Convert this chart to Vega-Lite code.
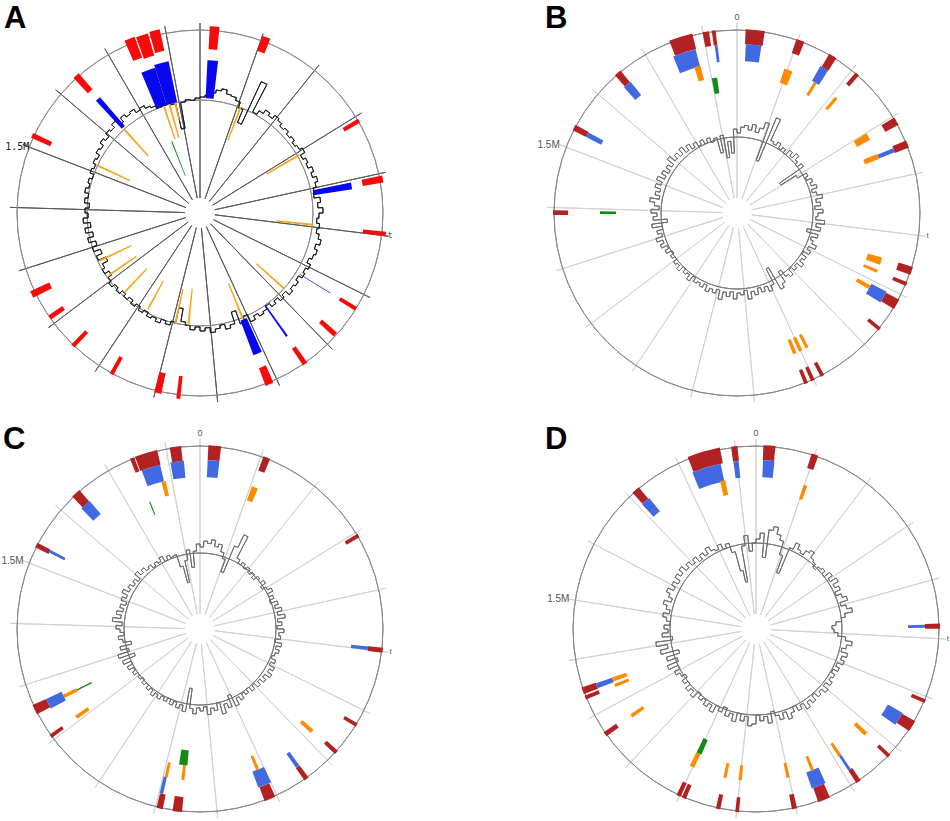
{
"$schema":"https://vega.github.io/schema/vega-lite/v6.json",
"background":"white",
"padding":{"left":0,"top":3,"right":0,"bottom":0},
"config":{"view":{"stroke":null}},
"datasets":{
"t1":[{"p":0},{"p":100},{"p":200},{"p":300},{"p":400},{"p":500},{"p":600},{"p":700},{"p":800},{"p":900},{"p":1000},{"p":1100},{"p":1200},{"p":1300},{"p":1400},{"p":1500},{"p":1600},{"p":1700},{"p":1800}],
"t2":[{"p":0},{"p":100},{"p":200},{"p":300},{"p":400},{"p":500},{"p":600},{"p":700},{"p":800},{"p":900},{"p":1000},{"p":1100},{"p":1200},{"p":1300},{"p":1400},{"p":1500},{"p":1600},{"p":1700},{"p":1800},{"p":1900}],
"gcA":[{"i":0,"v":116},{"i":1,"v":118},{"i":2,"v":121},{"i":3,"v":124},{"i":4,"v":126},{"i":5,"v":122},{"i":6,"v":121},{"i":7,"v":118},{"i":8,"v":112},{"i":9,"v":98},{"i":10,"v":145},{"i":11,"v":114},{"i":12,"v":118},{"i":13,"v":122},{"i":14,"v":119},{"i":15,"v":123},{"i":16,"v":121},{"i":17,"v":118},{"i":18,"v":120},{"i":19,"v":117},{"i":20,"v":119},{"i":21,"v":116},{"i":22,"v":118},{"i":23,"v":121},{"i":24,"v":116},{"i":25,"v":119},{"i":26,"v":117},{"i":27,"v":121},{"i":28,"v":118},{"i":29,"v":122},{"i":30,"v":119},{"i":31,"v":116},{"i":32,"v":115},{"i":33,"v":121},{"i":34,"v":118},{"i":35,"v":123},{"i":36,"v":119},{"i":37,"v":117},{"i":38,"v":120},{"i":39,"v":118},{"i":40,"v":121},{"i":41,"v":124},{"i":42,"v":120},{"i":43,"v":123},{"i":44,"v":121},{"i":45,"v":118},{"i":46,"v":122},{"i":47,"v":119},{"i":48,"v":121},{"i":49,"v":117},{"i":50,"v":120},{"i":51,"v":118},{"i":52,"v":121},{"i":53,"v":116},{"i":54,"v":119},{"i":55,"v":115},{"i":56,"v":118},{"i":57,"v":114},{"i":58,"v":117},{"i":59,"v":119},{"i":60,"v":116},{"i":61,"v":120},{"i":62,"v":112},{"i":63,"v":118},{"i":64,"v":104},{"i":65,"v":116},{"i":66,"v":119},{"i":67,"v":114},{"i":68,"v":117},{"i":69,"v":120},{"i":70,"v":115},{"i":71,"v":118},{"i":72,"v":114},{"i":73,"v":117},{"i":74,"v":113},{"i":75,"v":110},{"i":76,"v":97},{"i":77,"v":112},{"i":78,"v":116},{"i":79,"v":113},{"i":80,"v":117},{"i":81,"v":114},{"i":82,"v":116},{"i":83,"v":112},{"i":84,"v":115},{"i":85,"v":111},{"i":86,"v":114},{"i":87,"v":110},{"i":88,"v":113},{"i":89,"v":110},{"i":90,"v":114},{"i":91,"v":111},{"i":92,"v":115},{"i":93,"v":112},{"i":94,"v":108},{"i":95,"v":113},{"i":96,"v":110},{"i":97,"v":104},{"i":98,"v":112},{"i":99,"v":106},{"i":100,"v":113},{"i":101,"v":108},{"i":102,"v":115},{"i":103,"v":109},{"i":104,"v":116},{"i":105,"v":110},{"i":106,"v":117},{"i":107,"v":112},{"i":108,"v":115},{"i":109,"v":111},{"i":110,"v":116},{"i":111,"v":113},{"i":112,"v":117},{"i":113,"v":114},{"i":114,"v":116},{"i":115,"v":113},{"i":116,"v":117},{"i":117,"v":115},{"i":118,"v":118},{"i":119,"v":116},{"i":120,"v":120},{"i":121,"v":118},{"i":122,"v":122},{"i":123,"v":119},{"i":124,"v":123},{"i":125,"v":121},{"i":126,"v":125},{"i":127,"v":119},{"i":128,"v":124},{"i":129,"v":121},{"i":130,"v":123},{"i":131,"v":119},{"i":132,"v":121},{"i":133,"v":118},{"i":134,"v":116},{"i":135,"v":113},{"i":136,"v":113},{"i":137,"v":114},{"i":138,"v":112},{"i":139,"v":86},{"i":140,"v":112},{"i":141,"v":114},{"i":142,"v":113},{"i":143,"v":115},{"i":144,"v":116}],
"gcB":[{"i":0,"v":80},{"i":1,"v":86},{"i":2,"v":88},{"i":3,"v":84},{"i":4,"v":90},{"i":5,"v":83},{"i":6,"v":88},{"i":7,"v":95},{"i":8,"v":56},{"i":9,"v":103},{"i":10,"v":80},{"i":11,"v":78},{"i":12,"v":82},{"i":13,"v":77},{"i":14,"v":80},{"i":15,"v":76},{"i":16,"v":82},{"i":17,"v":78},{"i":18,"v":84},{"i":19,"v":79},{"i":20,"v":76},{"i":21,"v":81},{"i":22,"v":52},{"i":23,"v":70},{"i":24,"v":80},{"i":25,"v":77},{"i":26,"v":82},{"i":27,"v":79},{"i":28,"v":84},{"i":29,"v":78},{"i":30,"v":82},{"i":31,"v":87},{"i":32,"v":80},{"i":33,"v":84},{"i":34,"v":78},{"i":35,"v":86},{"i":36,"v":81},{"i":37,"v":79},{"i":38,"v":88},{"i":39,"v":80},{"i":40,"v":85},{"i":41,"v":72},{"i":42,"v":84},{"i":43,"v":78},{"i":44,"v":81},{"i":45,"v":86},{"i":46,"v":79},{"i":47,"v":83},{"i":48,"v":77},{"i":49,"v":82},{"i":50,"v":79},{"i":51,"v":84},{"i":52,"v":78},{"i":53,"v":81},{"i":54,"v":77},{"i":55,"v":83},{"i":56,"v":80},{"i":57,"v":72},{"i":58,"v":84},{"i":59,"v":88},{"i":60,"v":63},{"i":61,"v":80},{"i":62,"v":85},{"i":63,"v":79},{"i":64,"v":83},{"i":65,"v":78},{"i":66,"v":84},{"i":67,"v":80},{"i":68,"v":87},{"i":69,"v":78},{"i":70,"v":82},{"i":71,"v":80},{"i":72,"v":86},{"i":73,"v":79},{"i":74,"v":84},{"i":75,"v":80},{"i":76,"v":88},{"i":77,"v":79},{"i":78,"v":83},{"i":79,"v":80},{"i":80,"v":84},{"i":81,"v":78},{"i":82,"v":82},{"i":83,"v":79},{"i":84,"v":81},{"i":85,"v":77},{"i":86,"v":83},{"i":87,"v":78},{"i":88,"v":80},{"i":89,"v":76},{"i":90,"v":82},{"i":91,"v":78},{"i":92,"v":80},{"i":93,"v":76},{"i":94,"v":79},{"i":95,"v":75},{"i":96,"v":81},{"i":97,"v":77},{"i":98,"v":83},{"i":99,"v":79},{"i":100,"v":85},{"i":101,"v":78},{"i":102,"v":82},{"i":103,"v":76},{"i":104,"v":86},{"i":105,"v":70},{"i":106,"v":84},{"i":107,"v":80},{"i":108,"v":86},{"i":109,"v":78},{"i":110,"v":83},{"i":111,"v":88},{"i":112,"v":79},{"i":113,"v":84},{"i":114,"v":80},{"i":115,"v":86},{"i":116,"v":81},{"i":117,"v":87},{"i":118,"v":80},{"i":119,"v":85},{"i":120,"v":79},{"i":121,"v":84},{"i":122,"v":80},{"i":123,"v":88},{"i":124,"v":81},{"i":125,"v":85},{"i":126,"v":80},{"i":127,"v":86},{"i":128,"v":79},{"i":129,"v":84},{"i":130,"v":78},{"i":131,"v":82},{"i":132,"v":77},{"i":133,"v":81},{"i":134,"v":76},{"i":135,"v":80},{"i":136,"v":75},{"i":137,"v":78},{"i":138,"v":62},{"i":139,"v":79},{"i":140,"v":56},{"i":141,"v":72},{"i":142,"v":60},{"i":143,"v":84},{"i":144,"v":80}],
"gcC":[{"i":0,"v":82},{"i":1,"v":88},{"i":2,"v":86},{"i":3,"v":90},{"i":4,"v":84},{"i":5,"v":87},{"i":6,"v":80},{"i":7,"v":74},{"i":8,"v":61},{"i":9,"v":90},{"i":10,"v":104},{"i":11,"v":80},{"i":12,"v":76},{"i":13,"v":79},{"i":14,"v":75},{"i":15,"v":78},{"i":16,"v":74},{"i":17,"v":77},{"i":18,"v":73},{"i":19,"v":78},{"i":20,"v":76},{"i":21,"v":80},{"i":22,"v":74},{"i":23,"v":78},{"i":24,"v":82},{"i":25,"v":76},{"i":26,"v":80},{"i":27,"v":75},{"i":28,"v":82},{"i":29,"v":78},{"i":30,"v":84},{"i":31,"v":79},{"i":32,"v":86},{"i":33,"v":78},{"i":34,"v":82},{"i":35,"v":77},{"i":36,"v":84},{"i":37,"v":79},{"i":38,"v":81},{"i":39,"v":76},{"i":40,"v":83},{"i":41,"v":78},{"i":42,"v":82},{"i":43,"v":79},{"i":44,"v":77},{"i":45,"v":82},{"i":46,"v":78},{"i":47,"v":84},{"i":48,"v":80},{"i":49,"v":85},{"i":50,"v":79},{"i":51,"v":83},{"i":52,"v":78},{"i":53,"v":82},{"i":54,"v":77},{"i":55,"v":81},{"i":56,"v":76},{"i":57,"v":80},{"i":58,"v":77},{"i":59,"v":82},{"i":60,"v":78},{"i":61,"v":85},{"i":62,"v":72},{"i":63,"v":84},{"i":64,"v":79},{"i":65,"v":88},{"i":66,"v":76},{"i":67,"v":83},{"i":68,"v":80},{"i":69,"v":86},{"i":70,"v":78},{"i":71,"v":82},{"i":72,"v":79},{"i":73,"v":85},{"i":74,"v":80},{"i":75,"v":60},{"i":76,"v":84},{"i":77,"v":78},{"i":78,"v":82},{"i":79,"v":77},{"i":80,"v":81},{"i":81,"v":76},{"i":82,"v":80},{"i":83,"v":77},{"i":84,"v":81},{"i":85,"v":78},{"i":86,"v":82},{"i":87,"v":77},{"i":88,"v":80},{"i":89,"v":76},{"i":90,"v":79},{"i":91,"v":75},{"i":92,"v":78},{"i":93,"v":76},{"i":94,"v":80},{"i":95,"v":77},{"i":96,"v":82},{"i":97,"v":76},{"i":98,"v":84},{"i":99,"v":70},{"i":100,"v":86},{"i":101,"v":74},{"i":102,"v":82},{"i":103,"v":70},{"i":104,"v":78},{"i":105,"v":82},{"i":106,"v":76},{"i":107,"v":80},{"i":108,"v":84},{"i":109,"v":78},{"i":110,"v":88},{"i":111,"v":80},{"i":112,"v":85},{"i":113,"v":79},{"i":114,"v":83},{"i":115,"v":78},{"i":116,"v":84},{"i":117,"v":80},{"i":118,"v":86},{"i":119,"v":80},{"i":120,"v":83},{"i":121,"v":79},{"i":122,"v":82},{"i":123,"v":78},{"i":124,"v":85},{"i":125,"v":80},{"i":126,"v":83},{"i":127,"v":79},{"i":128,"v":81},{"i":129,"v":77},{"i":130,"v":80},{"i":131,"v":78},{"i":132,"v":82},{"i":133,"v":76},{"i":134,"v":80},{"i":135,"v":77},{"i":136,"v":78},{"i":137,"v":65},{"i":138,"v":48},{"i":139,"v":70},{"i":140,"v":80},{"i":141,"v":62},{"i":142,"v":78},{"i":143,"v":85},{"i":144,"v":82}],
"gcD":[{"i":0,"v":90},{"i":1,"v":96},{"i":2,"v":72},{"i":3,"v":100},{"i":4,"v":104},{"i":5,"v":97},{"i":6,"v":92},{"i":7,"v":78},{"i":8,"v":60},{"i":9,"v":88},{"i":10,"v":95},{"i":11,"v":90},{"i":12,"v":88},{"i":13,"v":93},{"i":14,"v":96},{"i":15,"v":90},{"i":16,"v":88},{"i":17,"v":84},{"i":18,"v":88},{"i":19,"v":90},{"i":20,"v":86},{"i":21,"v":93},{"i":22,"v":88},{"i":23,"v":95},{"i":24,"v":89},{"i":25,"v":93},{"i":26,"v":87},{"i":27,"v":92},{"i":28,"v":96},{"i":29,"v":88},{"i":30,"v":93},{"i":31,"v":98},{"i":32,"v":90},{"i":33,"v":86},{"i":34,"v":80},{"i":35,"v":76},{"i":36,"v":78},{"i":37,"v":82},{"i":38,"v":90},{"i":39,"v":97},{"i":40,"v":92},{"i":41,"v":88},{"i":42,"v":95},{"i":43,"v":90},{"i":44,"v":94},{"i":45,"v":88},{"i":46,"v":92},{"i":47,"v":87},{"i":48,"v":91},{"i":49,"v":89},{"i":50,"v":93},{"i":51,"v":88},{"i":52,"v":94},{"i":53,"v":89},{"i":54,"v":92},{"i":55,"v":87},{"i":56,"v":93},{"i":57,"v":89},{"i":58,"v":95},{"i":59,"v":88},{"i":60,"v":92},{"i":61,"v":86},{"i":62,"v":91},{"i":63,"v":96},{"i":64,"v":88},{"i":65,"v":94},{"i":66,"v":89},{"i":67,"v":84},{"i":68,"v":95},{"i":69,"v":88},{"i":70,"v":92},{"i":71,"v":86},{"i":72,"v":95},{"i":73,"v":97},{"i":74,"v":88},{"i":75,"v":93},{"i":76,"v":86},{"i":77,"v":95},{"i":78,"v":88},{"i":79,"v":92},{"i":80,"v":84},{"i":81,"v":90},{"i":82,"v":86},{"i":83,"v":94},{"i":84,"v":88},{"i":85,"v":92},{"i":86,"v":87},{"i":87,"v":90},{"i":88,"v":85},{"i":89,"v":93},{"i":90,"v":88},{"i":91,"v":92},{"i":92,"v":86},{"i":93,"v":90},{"i":94,"v":84},{"i":95,"v":88},{"i":96,"v":92},{"i":97,"v":86},{"i":98,"v":96},{"i":99,"v":84},{"i":100,"v":94},{"i":101,"v":80},{"i":102,"v":98},{"i":103,"v":90},{"i":104,"v":101},{"i":105,"v":84},{"i":106,"v":94},{"i":107,"v":88},{"i":108,"v":92},{"i":109,"v":86},{"i":110,"v":90},{"i":111,"v":94},{"i":112,"v":88},{"i":113,"v":92},{"i":114,"v":96},{"i":115,"v":89},{"i":116,"v":93},{"i":117,"v":97},{"i":118,"v":91},{"i":119,"v":95},{"i":120,"v":90},{"i":121,"v":96},{"i":122,"v":92},{"i":123,"v":97},{"i":124,"v":91},{"i":125,"v":95},{"i":126,"v":90},{"i":127,"v":94},{"i":128,"v":88},{"i":129,"v":93},{"i":130,"v":89},{"i":131,"v":95},{"i":132,"v":90},{"i":133,"v":88},{"i":134,"v":92},{"i":135,"v":86},{"i":136,"v":90},{"i":137,"v":80},{"i":138,"v":60},{"i":139,"v":48},{"i":140,"v":84},{"i":141,"v":94},{"i":142,"v":78},{"i":143,"v":86},{"i":144,"v":90}],
"fA":[
{"s":1733,"e":1750,"r0":166,"r1":188,"t":1},{"s":1752,"e":1771.6,"r0":164,"r1":187,"t":1},{"s":1774.2,"e":1791.2,"r0":166,"r1":188,"t":1},{"s":15.5,"e":30.9,"r0":164,"r1":187,"t":1},{"s":99.9,"e":113.3,"r0":172,"r1":188,"t":1},{"s":304.9,"e":312.1,"r0":166,"r1":184,"t":1},{"s":403.8,"e":415.1,"r0":165,"r1":186,"t":1},{"s":493.4,"e":500.1,"r0":164,"r1":187,"t":1},{"s":623.2,"e":629.8,"r0":164,"r1":183,"t":1},{"s":675.7,"e":683.9,"r0":162,"r1":182,"t":1},{"s":743.7,"e":751.9,"r0":164,"r1":184,"t":1},{"s":807,"e":820.4,"r0":166,"r1":185,"t":1},{"s":958.9,"e":965.1,"r0":164,"r1":187,"t":1},{"s":989.8,"e":1001.2,"r0":164,"r1":185,"t":1},{"s":1072.2,"e":1078.9,"r0":164,"r1":184,"t":1},{"s":1149,"e":1156.2,"r0":164,"r1":184,"t":1},{"s":1207.7,"e":1215.9,"r0":166,"r1":183,"t":1},{"s":1252.5,"e":1263.8,"r0":166,"r1":187,"t":1},{"s":1515.1,"e":1523.4,"r0":164,"r1":185,"t":1},{"s":1632.6,"e":1643.9,"r0":164,"r1":185,"t":1},
{"s":1738.1,"e":1766.5,"r0":113,"r1":152,"t":2},{"s":1766.5,"e":1794.8,"r0":113,"r1":155,"t":2},{"s":14.4,"e":35,"r0":115,"r1":153,"t":2},{"s":1634.1,"e":1644.9,"r0":115,"r1":153,"t":2},{"s":404.8,"e":418.2,"r0":115,"r1":154,"t":2},{"s":625.5,"e":627,"r0":117,"r1":153,"t":2},{"s":744.2,"e":748.3,"r0":113,"r1":151,"t":2},{"s":803.9,"e":821.4,"r0":115,"r1":152,"t":2},
{"s":1756.2,"e":1761.3,"r0":78,"r1":113,"t":3},{"s":1771.6,"e":1776.8,"r0":78,"r1":113,"t":3},{"s":1787.1,"e":1792.2,"r0":95,"r1":113,"t":3},{"s":105.6,"e":110.7,"r0":78,"r1":113,"t":3},{"s":1635.1,"e":1640.3,"r0":77,"r1":112,"t":3},{"s":1516.7,"e":1521.8,"r0":77,"r1":114,"t":3},{"s":304.9,"e":310,"r0":77,"r1":115,"t":3},{"s":491.8,"e":497,"r0":77,"r1":114,"t":3},{"s":677.2,"e":682.4,"r0":76,"r1":113,"t":3},{"s":811.1,"e":816.3,"r0":76,"r1":114,"t":3},{"s":955.3,"e":960.5,"r0":76,"r1":113,"t":3},{"s":989.8,"e":995,"r0":78,"r1":113,"t":3},{"s":1071.2,"e":1076.4,"r0":77,"r1":109,"t":3},{"s":1149.5,"e":1154.6,"r0":77,"r1":109,"t":3},{"s":1211.8,"e":1217,"r0":77,"r1":110,"t":3},{"s":1257.6,"e":1262.8,"r0":76,"r1":111,"t":3},
{"s":1741.7,"e":1746.4,"r0":40,"r1":77,"t":4}],
"fB":[
{"s":13.9,"e":44.8,"r0":169,"r1":184,"t":1},{"s":97.3,"e":110.7,"r0":169,"r1":184,"t":1},{"s":155,"e":168.4,"r0":169,"r1":184,"t":1},{"s":207,"e":214.2,"r0":169,"r1":184,"t":1},{"s":302.8,"e":316.2,"r0":169,"r1":184,"t":1},{"s":344,"e":356.4,"r0":169,"r1":184,"t":1},{"s":551.6,"e":565,"r0":169,"r1":184,"t":1},{"s":577.8,"e":584,"r0":169,"r1":184,"t":1},{"s":608.7,"e":625.7,"r0":169,"r1":184,"t":1},{"s":662.3,"e":668.5,"r0":169,"r1":184,"t":1},{"s":810.6,"e":816.8,"r0":169,"r1":184,"t":1},{"s":798.8,"e":805,"r0":169,"r1":184,"t":1},{"s":781.8,"e":788,"r0":169,"r1":184,"t":1},{"s":1387.9,"e":1395.7,"r0":169,"r1":184,"t":1},{"s":1529,"e":1538.8,"r0":169,"r1":184,"t":1},{"s":1640.8,"e":1652.6,"r0":169,"r1":184,"t":1},{"s":1744.3,"e":1782.9,"r0":169,"r1":185,"t":1},{"s":1799.4,"e":1809.7,"r0":169,"r1":184,"t":1},{"s":1814.3,"e":1820.5,"r0":169,"r1":184,"t":1},
{"s":15.5,"e":42.7,"r0":152,"r1":169,"t":2},{"s":152.4,"e":167.9,"r0":152,"r1":169,"t":2},{"s":347.6,"e":355.4,"r0":152,"r1":169,"t":2},{"s":606.7,"e":628.3,"r0":152,"r1":169,"t":2},{"s":1529,"e":1537.8,"r0":152,"r1":169,"t":2},{"s":1638.7,"e":1653.7,"r0":152,"r1":169,"t":2},{"s":1740.7,"e":1781.9,"r0":151,"r1":169,"t":2},{"s":1815.9,"e":1821,"r0":152,"r1":169,"t":2},
{"s":93.7,"e":110.2,"r0":137,"r1":152,"t":3},{"s":156.6,"e":162.7,"r0":137,"r1":152,"t":3},{"s":207,"e":213.2,"r0":137,"r1":152,"t":3},{"s":300.8,"e":315.2,"r0":137,"r1":152,"t":3},{"s":346.1,"e":356.4,"r0":137,"r1":152,"t":3},{"s":552.1,"e":566.5,"r0":137,"r1":152,"t":3},{"s":576.8,"e":583,"r0":137,"r1":152,"t":3},{"s":610.3,"e":618.5,"r0":137,"r1":152,"t":3},{"s":808.6,"e":815.8,"r0":137,"r1":152,"t":3},{"s":796.2,"e":803.4,"r0":137,"r1":152,"t":3},{"s":782.8,"e":789,"r0":137,"r1":152,"t":3},{"s":1771.1,"e":1783.4,"r0":137,"r1":152,"t":3},
{"s":1800.4,"e":1811.8,"r0":121,"r1":137,"t":4},{"s":1389,"e":1395.1,"r0":121,"r1":137,"t":4}],
"fC":[
{"s":13.4,"e":34,"r0":169,"r1":184,"t":1},{"s":1806.1,"e":1824.6,"r0":169,"r1":184,"t":1},{"s":1748.4,"e":1785.5,"r0":169,"r1":184,"t":1},{"s":1739.7,"e":1746.9,"r0":169,"r1":184,"t":1},{"s":104,"e":115.4,"r0":169,"r1":184,"t":1},{"s":303.3,"e":309.5,"r0":169,"r1":184,"t":1},{"s":493.9,"e":502.1,"r0":169,"r1":184,"t":1},{"s":623.2,"e":629.3,"r0":169,"r1":184,"t":1},{"s":677.2,"e":684.4,"r0":169,"r1":184,"t":1},{"s":741.1,"e":749.3,"r0":169,"r1":184,"t":1},{"s":802.9,"e":821.4,"r0":169,"r1":184,"t":1},{"s":956.4,"e":971.8,"r0":169,"r1":184,"t":1},{"s":987.8,"e":998.1,"r0":169,"r1":184,"t":1},{"s":1248.9,"e":1265.4,"r0":169,"r1":184,"t":1},{"s":1204.1,"e":1210.3,"r0":169,"r1":184,"t":1},{"s":1527,"e":1535.2,"r0":169,"r1":184,"t":1},{"s":1628.4,"e":1643.9,"r0":169,"r1":184,"t":1},
{"s":13.4,"e":34,"r0":152,"r1":169,"t":2},{"s":1803,"e":1826.7,"r0":152,"r1":169,"t":2},{"s":1751,"e":1784.5,"r0":152,"r1":169,"t":2},{"s":494.4,"e":500.6,"r0":152,"r1":169,"t":2},{"s":741.6,"e":748.8,"r0":152,"r1":169,"t":2},{"s":799.3,"e":823.5,"r0":152,"r1":169,"t":2},{"s":992.4,"e":998.6,"r0":152,"r1":169,"t":2},{"s":1246.8,"e":1265.4,"r0":152,"r1":169,"t":2},{"s":1529.6,"e":1534.7,"r0":152,"r1":169,"t":2},{"s":1625.3,"e":1644.9,"r0":152,"r1":169,"t":2},
{"s":1779.3,"e":1787.6,"r0":137,"r1":152,"t":3},{"s":103,"e":115.4,"r0":137,"r1":152,"t":3},{"s":678.3,"e":686.5,"r0":137,"r1":152,"t":3},{"s":809.6,"e":815.8,"r0":137,"r1":152,"t":3},{"s":957.9,"e":964.1,"r0":137,"r1":152,"t":3},{"s":990.9,"e":997,"r0":137,"r1":152,"t":3},{"s":1252,"e":1259.2,"r0":137,"r1":152,"t":3},{"s":1204.6,"e":1211.8,"r0":137,"r1":152,"t":3},
{"s":1742.5,"e":1745.1,"r0":123,"r1":137,"t":4},{"s":954.8,"e":972.8,"r0":122,"r1":137,"t":4},{"s":1254,"e":1257.1,"r0":121,"r1":137,"t":4}],
"fD":[
{"s":12.4,"e":32.8,"r0":169,"r1":184,"t":1},{"s":1893.1,"e":1903.8,"r0":169,"r1":184,"t":1},{"s":1818.4,"e":1874.3,"r0":169,"r1":185,"t":1},{"s":94.6,"e":106.4,"r0":169,"r1":184,"t":1},{"s":1708.2,"e":1722.2,"r0":169,"r1":184,"t":1},{"s":474.6,"e":483.2,"r0":169,"r1":184,"t":1},{"s":604.7,"e":611.1,"r0":169,"r1":184,"t":1},{"s":645.5,"e":664.9,"r0":169,"r1":184,"t":1},{"s":715.4,"e":721.9,"r0":169,"r1":184,"t":1},{"s":781,"e":789.6,"r0":169,"r1":184,"t":1},{"s":840.1,"e":861.1,"r0":169,"r1":184,"t":1},{"s":898.2,"e":906.8,"r0":169,"r1":184,"t":1},{"s":996,"e":1002.4,"r0":169,"r1":184,"t":1},{"s":1027.7,"e":1035.2,"r0":169,"r1":184,"t":1},{"s":1087.9,"e":1095.4,"r0":169,"r1":184,"t":1},{"s":1097.6,"e":1105.1,"r0":169,"r1":184,"t":1},{"s":1259.4,"e":1268,"r0":169,"r1":184,"t":1},{"s":1340,"e":1351.8,"r0":169,"r1":184,"t":1},{"s":1330.3,"e":1336.8,"r0":169,"r1":184,"t":1},
{"s":12.9,"e":33.9,"r0":152,"r1":169,"t":2},{"s":1893.6,"e":1903.3,"r0":152,"r1":169,"t":2},{"s":1816.2,"e":1870,"r0":151,"r1":169,"t":2},{"s":1707.1,"e":1724.3,"r0":152,"r1":169,"t":2},{"s":476.2,"e":481.6,"r0":152,"r1":169,"t":2},{"s":643.9,"e":669.2,"r0":152,"r1":169,"t":2},{"s":784.2,"e":789.6,"r0":152,"r1":169,"t":2},{"s":836.9,"e":863.8,"r0":152,"r1":169,"t":2},{"s":1341.1,"e":1350.7,"r0":152,"r1":169,"t":2},
{"s":1861.4,"e":1872.1,"r0":137,"r1":152,"t":3},{"s":98.4,"e":105.9,"r0":137,"r1":152,"t":3},{"s":714.3,"e":722.9,"r0":137,"r1":152,"t":3},{"s":784.2,"e":790.7,"r0":137,"r1":152,"t":3},{"s":847.1,"e":853.6,"r0":137,"r1":152,"t":3},{"s":898.7,"e":905.2,"r0":137,"r1":152,"t":3},{"s":996.5,"e":1003,"r0":137,"r1":152,"t":3},{"s":1027.7,"e":1034.2,"r0":137,"r1":152,"t":3},{"s":1096.5,"e":1106.2,"r0":137,"r1":152,"t":3},{"s":1259.9,"e":1267.4,"r0":137,"r1":152,"t":3},{"s":1342.7,"e":1351.3,"r0":137,"r1":152,"t":3},{"s":1330.9,"e":1337.3,"r0":137,"r1":152,"t":3},
{"s":1093.8,"e":1105.6,"r0":121,"r1":137,"t":4}]
},
"vconcat":[
{"hconcat":[
{"width":400,"height":400,
"title":{"text":"A","anchor":"start","frame":"group","fontSize":31,"font":"Liberation Sans","fontWeight":"bold","color":"#000000","offset":-22,"dx":4},
"resolve":{"scale":{"theta":"independent"}},
"layer":[
{"data":{"name":"t1"},"mark":{"type":"arc","filled":false,"stroke":"#5a5a5a","strokeWidth":1},"encoding":{"theta":{"field":"p","type":"quantitative","scale":{"domain":[0,1855],"range":[0,6.283185307]},"stack":null},"theta2":{"field":"p"},"radius":{"datum":15,"type":"quantitative","scale":{"type":"linear","domain":[0,200],"range":[0,200],"zero":true,"nice":false}},"radius2":{"datum":190}}},
{"data":{"values":[{}]},"mark":{"type":"arc","filled":false,"stroke":"#8c8c8c","strokeWidth":1,"theta":0,"theta2":6.2832},"encoding":{"radius":{"datum":183,"type":"quantitative","scale":{"type":"linear","domain":[0,200],"range":[0,200],"zero":true,"nice":false}},"radius2":{"datum":183}}},
{"data":{"values":[{}]},"mark":{"type":"arc","filled":false,"stroke":"#8c8c8c","strokeWidth":1,"theta":0,"theta2":6.2832},"encoding":{"radius":{"datum":113,"type":"quantitative","scale":{"type":"linear","domain":[0,200],"range":[0,200],"zero":true,"nice":false}},"radius2":{"datum":113}}},
{"data":{"name":"gcA"},"transform":[{"window":[{"op":"lead","field":"i","as":"i2"},{"op":"lead","field":"v","as":"v2"}],"sort":[{"field":"i","order":"ascending"}]},{"filter":"isValid(datum.i2)"}],"mark":{"type":"arc","filled":false,"stroke":"#1e1e1e","strokeWidth":1},"encoding":{"theta":{"field":"i","type":"quantitative","scale":{"domain":[0,144],"range":[0,6.283185307]},"stack":null},"theta2":{"field":"i2"},"radius":{"field":"v","type":"quantitative","scale":{"type":"linear","domain":[0,200],"range":[0,200],"zero":true,"nice":false}},"radius2":{"field":"v"}}},
{"data":{"name":"gcA"},"transform":[{"window":[{"op":"lead","field":"i","as":"i2"},{"op":"lead","field":"v","as":"v2"}],"sort":[{"field":"i","order":"ascending"}]},{"filter":"isValid(datum.i2)"}],"mark":{"type":"arc","filled":false,"stroke":"#1e1e1e","strokeWidth":1},"encoding":{"theta":{"field":"i2","type":"quantitative","scale":{"domain":[0,144],"range":[0,6.283185307]},"stack":null},"theta2":{"field":"i2"},"radius":{"field":"v","type":"quantitative","scale":{"type":"linear","domain":[0,200],"range":[0,200],"zero":true,"nice":false}},"radius2":{"field":"v2"}}},
{"data":{"name":"fA"},"mark":{"type":"arc"},"encoding":{"theta":{"field":"s","type":"quantitative","scale":{"domain":[0,1855],"range":[0,6.283185307]},"stack":null},"theta2":{"field":"e"},"radius":{"field":"r0","type":"quantitative","scale":{"type":"linear","domain":[0,200],"range":[0,200],"zero":true,"nice":false}},"radius2":{"field":"r1"},"color":{"field":"t","type":"nominal","scale":{"domain":[1,2,3,4],"range":["#f80a0a","#0808f0","#f5a623","#138a13"]},"legend":null}}},
{"data":{"values":[{"p":1500,"l":"1.5M"}]},"mark":{"type":"text","align":"right","baseline":"middle","fontSize":10,"font":"DejaVu Sans Mono","color":"#222222"},"encoding":{"theta":{"field":"p","type":"quantitative","scale":{"domain":[0,1855],"range":[0,6.283185307]},"stack":null},"radius":{"datum":183,"type":"quantitative","scale":{"type":"linear","domain":[0,200],"range":[0,200],"zero":true,"nice":false}},"text":{"field":"l"}}},
{"data":{"values":[{"p":500,"l":"t"}]},"mark":{"type":"text","align":"left","baseline":"middle","fontSize":8,"font":"DejaVu Sans","color":"#444444"},"encoding":{"theta":{"field":"p","type":"quantitative","scale":{"domain":[0,1855],"range":[0,6.283185307]},"stack":null},"radius":{"datum":190,"type":"quantitative","scale":{"type":"linear","domain":[0,200],"range":[0,200],"zero":true,"nice":false}},"text":{"field":"l"}}}
]},
{"width":400,"height":400,
"title":{"text":"B","anchor":"start","frame":"group","fontSize":31,"font":"Liberation Sans","fontWeight":"bold","color":"#000000","offset":-22,"dx":8},
"resolve":{"scale":{"theta":"independent"}},
"layer":[
{"data":{"name":"t1"},"mark":{"type":"arc","filled":false,"stroke":"#d2d2d2","strokeWidth":1},"encoding":{"theta":{"field":"p","type":"quantitative","scale":{"domain":[0,1855],"range":[0,6.283185307]},"stack":null},"theta2":{"field":"p"},"radius":{"datum":15,"type":"quantitative","scale":{"type":"linear","domain":[0,200],"range":[0,200],"zero":true,"nice":false}},"radius2":{"datum":190}}},
{"data":{"values":[{}]},"mark":{"type":"arc","filled":false,"stroke":"#8a8a8a","strokeWidth":1,"theta":0,"theta2":6.2832},"encoding":{"radius":{"datum":183,"type":"quantitative","scale":{"type":"linear","domain":[0,200],"range":[0,200],"zero":true,"nice":false}},"radius2":{"datum":183}}},
{"data":{"values":[{}]},"mark":{"type":"arc","filled":false,"stroke":"#7a7a7a","strokeWidth":1,"theta":0,"theta2":6.2832},"encoding":{"radius":{"datum":76,"type":"quantitative","scale":{"type":"linear","domain":[0,200],"range":[0,200],"zero":true,"nice":false}},"radius2":{"datum":76}}},
{"data":{"name":"gcB"},"transform":[{"window":[{"op":"lead","field":"i","as":"i2"},{"op":"lead","field":"v","as":"v2"}],"sort":[{"field":"i","order":"ascending"}]},{"filter":"isValid(datum.i2)"}],"mark":{"type":"arc","filled":false,"stroke":"#6e6e6e","strokeWidth":1},"encoding":{"theta":{"field":"i","type":"quantitative","scale":{"domain":[0,144],"range":[0,6.283185307]},"stack":null},"theta2":{"field":"i2"},"radius":{"field":"v","type":"quantitative","scale":{"type":"linear","domain":[0,200],"range":[0,200],"zero":true,"nice":false}},"radius2":{"field":"v"}}},
{"data":{"name":"gcB"},"transform":[{"window":[{"op":"lead","field":"i","as":"i2"},{"op":"lead","field":"v","as":"v2"}],"sort":[{"field":"i","order":"ascending"}]},{"filter":"isValid(datum.i2)"}],"mark":{"type":"arc","filled":false,"stroke":"#6e6e6e","strokeWidth":1},"encoding":{"theta":{"field":"i2","type":"quantitative","scale":{"domain":[0,144],"range":[0,6.283185307]},"stack":null},"theta2":{"field":"i2"},"radius":{"field":"v","type":"quantitative","scale":{"type":"linear","domain":[0,200],"range":[0,200],"zero":true,"nice":false}},"radius2":{"field":"v2"}}},
{"data":{"name":"fB"},"mark":{"type":"arc"},"encoding":{"theta":{"field":"s","type":"quantitative","scale":{"domain":[0,1855],"range":[0,6.283185307]},"stack":null},"theta2":{"field":"e"},"radius":{"field":"r0","type":"quantitative","scale":{"type":"linear","domain":[0,200],"range":[0,200],"zero":true,"nice":false}},"radius2":{"field":"r1"},"color":{"field":"t","type":"nominal","scale":{"domain":[1,2,3,4],"range":["#b22222","#4169e1","#ff8c00","#138a13"]},"legend":null}}},
{"data":{"values":[{"p":0,"l":"0"}]},"mark":{"type":"text","align":"center","baseline":"middle","fontSize":9,"font":"Liberation Sans","color":"#555555"},"encoding":{"theta":{"field":"p","type":"quantitative","scale":{"domain":[0,1855],"range":[0,6.283185307]},"stack":null},"radius":{"datum":196,"type":"quantitative","scale":{"type":"linear","domain":[0,200],"range":[0,200],"zero":true,"nice":false}},"text":{"field":"l"}}},
{"data":{"values":[{"p":1500,"l":"1.5M"}]},"mark":{"type":"text","align":"right","baseline":"middle","fontSize":10,"font":"Liberation Sans","color":"#555555"},"encoding":{"theta":{"field":"p","type":"quantitative","scale":{"domain":[0,1855],"range":[0,6.283185307]},"stack":null},"radius":{"datum":190,"type":"quantitative","scale":{"type":"linear","domain":[0,200],"range":[0,200],"zero":true,"nice":false}},"text":{"field":"l"}}},
{"data":{"values":[{"p":500,"l":"t"}]},"mark":{"type":"text","align":"left","baseline":"middle","fontSize":8,"font":"Liberation Sans","color":"#555555"},"encoding":{"theta":{"field":"p","type":"quantitative","scale":{"domain":[0,1855],"range":[0,6.283185307]},"stack":null},"radius":{"datum":191,"type":"quantitative","scale":{"type":"linear","domain":[0,200],"range":[0,200],"zero":true,"nice":false}},"text":{"field":"l"}}}
]}
],"spacing":137,"bounds":"flush","resolve":{"scale":{"color":"independent","theta":"independent"}}},
{"hconcat":[
{"width":400,"height":400,
"title":{"text":"C","anchor":"start","frame":"group","fontSize":31,"font":"Liberation Sans","fontWeight":"bold","color":"#000000","offset":-27,"dx":3},
"resolve":{"scale":{"theta":"independent"}},
"layer":[
{"data":{"name":"t1"},"mark":{"type":"arc","filled":false,"stroke":"#d2d2d2","strokeWidth":1},"encoding":{"theta":{"field":"p","type":"quantitative","scale":{"domain":[0,1855],"range":[0,6.283185307]},"stack":null},"theta2":{"field":"p"},"radius":{"datum":15,"type":"quantitative","scale":{"type":"linear","domain":[0,200],"range":[0,200],"zero":true,"nice":false}},"radius2":{"datum":190}}},
{"data":{"values":[{}]},"mark":{"type":"arc","filled":false,"stroke":"#8a8a8a","strokeWidth":1,"theta":0,"theta2":6.2832},"encoding":{"radius":{"datum":183,"type":"quantitative","scale":{"type":"linear","domain":[0,200],"range":[0,200],"zero":true,"nice":false}},"radius2":{"datum":183}}},
{"data":{"values":[{}]},"mark":{"type":"arc","filled":false,"stroke":"#7a7a7a","strokeWidth":1,"theta":0,"theta2":6.2832},"encoding":{"radius":{"datum":76,"type":"quantitative","scale":{"type":"linear","domain":[0,200],"range":[0,200],"zero":true,"nice":false}},"radius2":{"datum":76}}},
{"data":{"name":"gcC"},"transform":[{"window":[{"op":"lead","field":"i","as":"i2"},{"op":"lead","field":"v","as":"v2"}],"sort":[{"field":"i","order":"ascending"}]},{"filter":"isValid(datum.i2)"}],"mark":{"type":"arc","filled":false,"stroke":"#6e6e6e","strokeWidth":1},"encoding":{"theta":{"field":"i","type":"quantitative","scale":{"domain":[0,144],"range":[0,6.283185307]},"stack":null},"theta2":{"field":"i2"},"radius":{"field":"v","type":"quantitative","scale":{"type":"linear","domain":[0,200],"range":[0,200],"zero":true,"nice":false}},"radius2":{"field":"v"}}},
{"data":{"name":"gcC"},"transform":[{"window":[{"op":"lead","field":"i","as":"i2"},{"op":"lead","field":"v","as":"v2"}],"sort":[{"field":"i","order":"ascending"}]},{"filter":"isValid(datum.i2)"}],"mark":{"type":"arc","filled":false,"stroke":"#6e6e6e","strokeWidth":1},"encoding":{"theta":{"field":"i2","type":"quantitative","scale":{"domain":[0,144],"range":[0,6.283185307]},"stack":null},"theta2":{"field":"i2"},"radius":{"field":"v","type":"quantitative","scale":{"type":"linear","domain":[0,200],"range":[0,200],"zero":true,"nice":false}},"radius2":{"field":"v2"}}},
{"data":{"name":"fC"},"mark":{"type":"arc"},"encoding":{"theta":{"field":"s","type":"quantitative","scale":{"domain":[0,1855],"range":[0,6.283185307]},"stack":null},"theta2":{"field":"e"},"radius":{"field":"r0","type":"quantitative","scale":{"type":"linear","domain":[0,200],"range":[0,200],"zero":true,"nice":false}},"radius2":{"field":"r1"},"color":{"field":"t","type":"nominal","scale":{"domain":[1,2,3,4],"range":["#b22222","#4169e1","#ff8c00","#138a13"]},"legend":null}}},
{"data":{"values":[{"p":0,"l":"0"}]},"mark":{"type":"text","align":"center","baseline":"middle","fontSize":9,"font":"Liberation Sans","color":"#555555"},"encoding":{"theta":{"field":"p","type":"quantitative","scale":{"domain":[0,1855],"range":[0,6.283185307]},"stack":null},"radius":{"datum":196,"type":"quantitative","scale":{"type":"linear","domain":[0,200],"range":[0,200],"zero":true,"nice":false}},"text":{"field":"l"}}},
{"data":{"values":[{"p":1500,"l":"1.5M"}]},"mark":{"type":"text","align":"right","baseline":"middle","fontSize":10,"font":"Liberation Sans","color":"#555555"},"encoding":{"theta":{"field":"p","type":"quantitative","scale":{"domain":[0,1855],"range":[0,6.283185307]},"stack":null},"radius":{"datum":189,"type":"quantitative","scale":{"type":"linear","domain":[0,200],"range":[0,200],"zero":true,"nice":false}},"text":{"field":"l"}}},
{"data":{"values":[{"p":500,"l":"t"}]},"mark":{"type":"text","align":"left","baseline":"middle","fontSize":8,"font":"Liberation Sans","color":"#555555"},"encoding":{"theta":{"field":"p","type":"quantitative","scale":{"domain":[0,1855],"range":[0,6.283185307]},"stack":null},"radius":{"datum":191,"type":"quantitative","scale":{"type":"linear","domain":[0,200],"range":[0,200],"zero":true,"nice":false}},"text":{"field":"l"}}}
]},
{"width":400,"height":400,
"title":{"text":"D","anchor":"start","frame":"group","fontSize":31,"font":"Liberation Sans","fontWeight":"bold","color":"#000000","offset":-27,"dx":-11},
"resolve":{"scale":{"theta":"independent"}},
"layer":[
{"data":{"name":"t2"},"mark":{"type":"arc","filled":false,"stroke":"#d2d2d2","strokeWidth":1},"encoding":{"theta":{"field":"p","type":"quantitative","scale":{"domain":[0,1935],"range":[0,6.283185307]},"stack":null},"theta2":{"field":"p"},"radius":{"datum":15,"type":"quantitative","scale":{"type":"linear","domain":[0,200],"range":[0,200],"zero":true,"nice":false}},"radius2":{"datum":190}}},
{"data":{"values":[{}]},"mark":{"type":"arc","filled":false,"stroke":"#8a8a8a","strokeWidth":1,"theta":0,"theta2":6.2832},"encoding":{"radius":{"datum":183,"type":"quantitative","scale":{"type":"linear","domain":[0,200],"range":[0,200],"zero":true,"nice":false}},"radius2":{"datum":183}}},
{"data":{"values":[{}]},"mark":{"type":"arc","filled":false,"stroke":"#7a7a7a","strokeWidth":1,"theta":0,"theta2":6.2832},"encoding":{"radius":{"datum":86,"type":"quantitative","scale":{"type":"linear","domain":[0,200],"range":[0,200],"zero":true,"nice":false}},"radius2":{"datum":86}}},
{"data":{"name":"gcD"},"transform":[{"window":[{"op":"lead","field":"i","as":"i2"},{"op":"lead","field":"v","as":"v2"}],"sort":[{"field":"i","order":"ascending"}]},{"filter":"isValid(datum.i2)"}],"mark":{"type":"arc","filled":false,"stroke":"#6e6e6e","strokeWidth":1},"encoding":{"theta":{"field":"i","type":"quantitative","scale":{"domain":[0,144],"range":[0,6.283185307]},"stack":null},"theta2":{"field":"i2"},"radius":{"field":"v","type":"quantitative","scale":{"type":"linear","domain":[0,200],"range":[0,200],"zero":true,"nice":false}},"radius2":{"field":"v"}}},
{"data":{"name":"gcD"},"transform":[{"window":[{"op":"lead","field":"i","as":"i2"},{"op":"lead","field":"v","as":"v2"}],"sort":[{"field":"i","order":"ascending"}]},{"filter":"isValid(datum.i2)"}],"mark":{"type":"arc","filled":false,"stroke":"#6e6e6e","strokeWidth":1},"encoding":{"theta":{"field":"i2","type":"quantitative","scale":{"domain":[0,144],"range":[0,6.283185307]},"stack":null},"theta2":{"field":"i2"},"radius":{"field":"v","type":"quantitative","scale":{"type":"linear","domain":[0,200],"range":[0,200],"zero":true,"nice":false}},"radius2":{"field":"v2"}}},
{"data":{"name":"fD"},"mark":{"type":"arc"},"encoding":{"theta":{"field":"s","type":"quantitative","scale":{"domain":[0,1935],"range":[0,6.283185307]},"stack":null},"theta2":{"field":"e"},"radius":{"field":"r0","type":"quantitative","scale":{"type":"linear","domain":[0,200],"range":[0,200],"zero":true,"nice":false}},"radius2":{"field":"r1"},"color":{"field":"t","type":"nominal","scale":{"domain":[1,2,3,4],"range":["#b22222","#4169e1","#ff8c00","#138a13"]},"legend":null}}},
{"data":{"values":[{"p":0,"l":"0"}]},"mark":{"type":"text","align":"center","baseline":"middle","fontSize":9,"font":"Liberation Sans","color":"#555555"},"encoding":{"theta":{"field":"p","type":"quantitative","scale":{"domain":[0,1935],"range":[0,6.283185307]},"stack":null},"radius":{"datum":196,"type":"quantitative","scale":{"type":"linear","domain":[0,200],"range":[0,200],"zero":true,"nice":false}},"text":{"field":"l"}}},
{"data":{"values":[{"p":1500,"l":"1.5M"}]},"mark":{"type":"text","align":"right","baseline":"middle","fontSize":10,"font":"Liberation Sans","color":"#555555"},"encoding":{"theta":{"field":"p","type":"quantitative","scale":{"domain":[0,1935],"range":[0,6.283185307]},"stack":null},"radius":{"datum":189,"type":"quantitative","scale":{"type":"linear","domain":[0,200],"range":[0,200],"zero":true,"nice":false}},"text":{"field":"l"}}},
{"data":{"values":[{"p":500,"l":"t"}]},"mark":{"type":"text","align":"left","baseline":"middle","fontSize":8,"font":"Liberation Sans","color":"#555555"},"encoding":{"theta":{"field":"p","type":"quantitative","scale":{"domain":[0,1935],"range":[0,6.283185307]},"stack":null},"radius":{"datum":191,"type":"quantitative","scale":{"type":"linear","domain":[0,200],"range":[0,200],"zero":true,"nice":false}},"text":{"field":"l"}}}
]}
],"spacing":156,"bounds":"flush","resolve":{"scale":{"color":"independent","theta":"independent"}}}
],
"spacing":11,
"resolve":{"scale":{"color":"independent","theta":"independent"}}
}
